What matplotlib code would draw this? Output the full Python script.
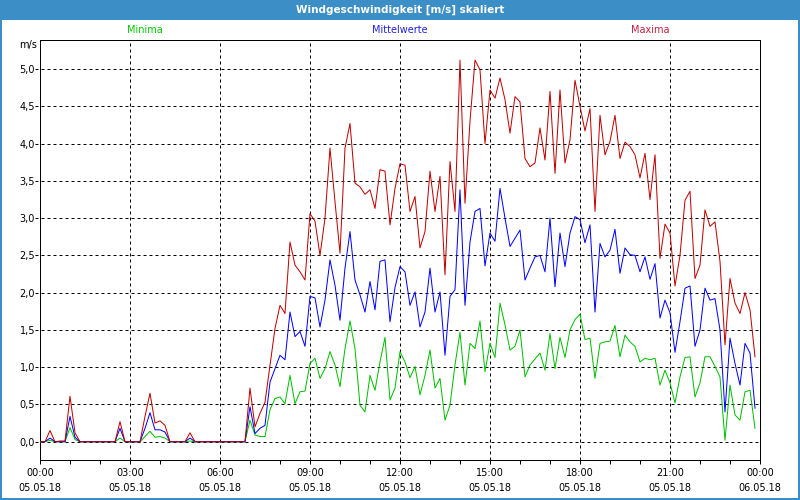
# plot.py

import numpy as np
import matplotlib
matplotlib.use("Agg")
import matplotlib.pyplot as plt
from matplotlib.patches import Rectangle
from matplotlib.transforms import blended_transform_factory

# ==========================================
# DATA (10 minute values, 05.05.18)
# ==========================================

maxima = [
    0, 0, 0.15, 0, 0.01, 0.01, 0.61, 0.12, 0, 0, 0, 0,
    0, 0, 0, 0, 0.27, 0, 0, 0, 0, 0.34, 0.65, 0.25,
    0.28, 0.22, 0, 0, 0, 0, 0.12, 0, 0, 0, 0, 0,
    0, 0, 0, 0, 0, 0, 0.72, 0.2, 0.38, 0.53, 1.03, 1.52,
    1.83, 1.72, 2.68, 2.37, 2.28, 2.17, 3.06, 2.96, 2.5, 3.0, 3.94, 3.22,
    2.53, 3.94, 4.27, 3.47, 3.42, 3.32, 3.38, 3.13, 3.65, 3.63, 2.91, 3.4,
    3.73, 3.71, 3.09, 3.29, 2.6, 2.82, 3.63, 3.09, 3.56, 2.24, 3.76, 3.09,
    5.12, 3.2, 4.3, 5.12, 4.99, 4.0, 4.72, 4.61, 4.88, 4.59, 4.14, 4.63,
    4.56, 3.8, 3.69, 3.74, 4.21, 3.78, 4.7, 3.6, 4.72, 3.74, 4.05, 4.85,
    4.5, 4.17, 4.47, 3.09, 4.38, 3.85, 4.03, 4.38, 3.8, 4.02, 3.96, 3.85,
    3.54, 3.87, 3.25, 3.85, 2.46, 2.92, 2.8, 2.09, 2.5, 3.24, 3.36, 2.19,
    2.37, 3.11, 2.89, 2.95, 2.42, 1.3, 2.19, 1.86, 1.72, 2.0, 1.77, 1.14,
]

mittelwerte = [
    0, 0, 0.05, 0, 0, 0, 0.34, 0.06, 0, 0, 0, 0,
    0, 0, 0, 0, 0.18, 0, 0, 0, 0, 0.18, 0.39, 0.16,
    0.16, 0.13, 0, 0, 0, 0, 0.05, 0, 0, 0, 0, 0,
    0, 0, 0, 0, 0, 0, 0.47, 0.11, 0.18, 0.22, 0.8, 0.98,
    1.16, 1.1, 1.74, 1.41, 1.48, 1.28, 1.95, 1.93, 1.54, 1.9, 2.44, 2.1,
    1.63, 2.33, 2.82, 2.17, 1.97, 1.74, 2.15, 1.77, 2.42, 2.44, 1.61, 2.07,
    2.35, 2.28, 1.83, 2.01, 1.54, 1.74, 2.33, 1.74, 2.01, 1.16, 1.95, 2.04,
    3.38, 1.83, 2.68, 3.09, 3.13, 2.36, 2.8, 2.69, 3.4, 3.0, 2.62, 2.73,
    2.84, 2.17, 2.33, 2.48, 2.5, 2.28, 3.0, 2.08, 2.8, 2.35, 2.8, 3.02,
    2.98, 2.67, 2.91, 1.74, 2.66, 2.48, 2.57, 2.85, 2.26, 2.6, 2.51, 2.5,
    2.28, 2.48, 2.18, 2.39, 1.66, 1.9, 1.73, 1.2, 1.61, 2.06, 2.09, 1.28,
    1.5, 2.06, 1.9, 1.92, 1.5, 0.4, 1.39, 1.05, 0.76, 1.32, 1.19, 0.45,
]

minima = [
    0, 0, 0.02, 0, 0, 0, 0.19, 0.03, 0, 0, 0, 0,
    0, 0, 0, 0, 0.05, 0, 0, 0, 0, 0.07, 0.14, 0.06,
    0.07, 0.05, 0, 0, 0, 0, 0.01, 0, 0, 0, 0, 0,
    0, 0, 0, 0, 0, 0, 0.29, 0.09, 0.07, 0.07, 0.43, 0.58,
    0.6, 0.51, 0.89, 0.51, 0.67, 0.68, 1.05, 1.12, 0.85, 0.98, 1.21, 1.03,
    0.74, 1.25, 1.62, 1.25, 0.49, 0.4, 0.89, 0.69, 1.07, 1.4, 0.56, 0.72,
    1.21, 1.07, 0.86, 1.01, 0.63, 0.89, 1.23, 0.72, 0.85, 0.29, 0.49, 1.03,
    1.47, 0.76, 1.32, 1.25, 1.62, 0.94, 1.32, 1.13, 1.86, 1.57, 1.23, 1.28,
    1.5, 0.87, 1.03, 1.11, 1.19, 0.96, 1.45, 0.98, 1.4, 1.13, 1.5, 1.64,
    1.71, 1.37, 1.39, 0.85, 1.32, 1.34, 1.35, 1.56, 1.14, 1.43, 1.34, 1.28,
    1.07, 1.12, 1.1, 1.12, 0.76, 0.96, 0.79, 0.52, 0.87, 1.13, 1.14, 0.6,
    0.79, 1.14, 1.14, 1.01, 0.87, 0.02, 0.76, 0.36, 0.29, 0.67, 0.69, 0.18,
]

x_tick_times = ["00:00", "03:00", "06:00", "09:00", "12:00", "15:00", "18:00", "21:00", "00:00"]
x_tick_dates = ["05.05.18"] * 8 + ["06.05.18"]
y_ticks = [0.0, 0.5, 1.0, 1.5, 2.0, 2.5, 3.0, 3.5, 4.0, 4.5, 5.0]

# time axis in hours (one value every 10 minutes)
hours = np.arange(len(maxima)) / 6.0

# ==========================================
# STYLE
# ==========================================

plt.rcParams["font.family"] = "DejaVu Sans"
plt.rcParams["lines.scale_dashes"] = False

BAR_BLUE = "#3b8ec6"
PX = 0.72  # one pixel in points at dpi 100
DASH = (3 * PX, 3 * PX)

fig = plt.figure(figsize=(8, 5), dpi=100)
fig.patch.set_facecolor("white")

# title bar and frame
fig.patches.append(Rectangle((0, 1 - 20 / 500), 1, 20 / 500, transform=fig.transFigure,
                             facecolor=BAR_BLUE, edgecolor="none", zorder=0))
fig.patches.append(Rectangle((0, 0), 1, 1, transform=fig.transFigure, fill=False,
                             edgecolor=BAR_BLUE, linewidth=4 * PX, zorder=5))

fig.text(0.5, 1 - 10 / 500, "Windgeschwindigkeit [m/s] skaliert", color="white",
         fontsize=7.5, fontweight="bold", ha="center", va="center")

# legend labels
fig.text(145 / 800, 1 - 30 / 500, "Minima", color="#00cc00", fontsize=7, ha="center", va="center")
fig.text(400 / 800, 1 - 30 / 500, "Mittelwerte", color="#2020e0", fontsize=7, ha="center", va="center")
fig.text(650 / 800, 1 - 30 / 500, "Maxima", color="#c02040", fontsize=7, ha="center", va="center")

fig.text(37 / 800, 1 - 45 / 500, "m/s", color="black", fontsize=7, ha="right", va="center")

# ==========================================
# AXES
# ==========================================

ax = fig.add_axes([40 / 800, 40 / 500, 720 / 800, 420 / 500])
ax.set_xlim(0, 24)
ax.set_ylim(-0.245, 5.39)

for spine in ax.spines.values():
    spine.set_linewidth(PX)
    spine.set_color("black")

# grid
trans = blended_transform_factory(ax.transAxes, ax.transData)
for v in y_ticks:
    ax.plot([-5 / 720, 1], [v, v], transform=trans, color="black", lw=PX,
            dashes=DASH, clip_on=False, zorder=1)
for h in range(3, 24, 3):
    ax.axvline(h, color="black", lw=PX, dashes=DASH, zorder=1)

# series
ax.plot(hours, minima, color="#00c000", lw=PX, zorder=3)
ax.plot(hours, mittelwerte, color="#0000ff", lw=PX, zorder=4)
ax.plot(hours, maxima, color="#c00000", lw=PX, zorder=5)

# ticks
ax.set_xticks(range(0, 25, 3))
ax.set_xticklabels([t + "\n" + d for t, d in zip(x_tick_times, x_tick_dates)],
                   fontsize=7, linespacing=1.6)
ax.set_xticks(range(0, 25), minor=True)
ax.tick_params(axis="x", which="both", direction="out", length=4 * PX, width=PX, pad=3)

ax.set_yticks(y_ticks)
ax.set_yticklabels([f"{v:.1f}".replace(".", ",") for v in y_ticks], fontsize=7)
ax.tick_params(axis="y", length=0, pad=5 * PX)

fig.savefig("out.png", dpi=100)
